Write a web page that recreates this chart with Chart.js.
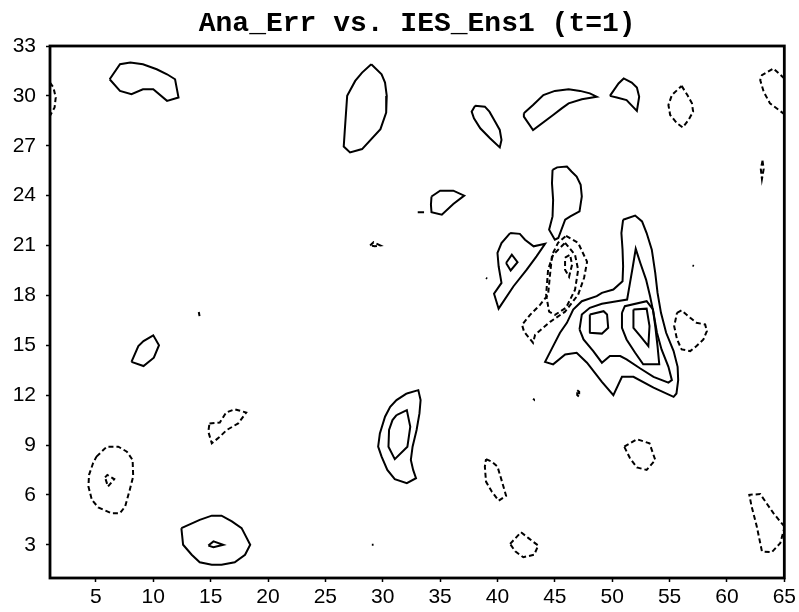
<!DOCTYPE html>
<html>
<head>
<meta charset="utf-8">
<script src="https://cdn.jsdelivr.net/npm/chart.js@4/dist/chart.umd.min.js"></script>
<style>
  html, body { margin: 0; padding: 0; background: #fff; }
  #wrap { width: 799px; height: 612px; }
</style>
</head>
<body>
<div id="wrap"><canvas id="contourChart" width="799" height="612"></canvas></div>
<script>
// axis ticks
const xTicks = [5, 10, 15, 20, 25, 30, 35, 40, 45, 50, 55, 60, 65]
const yTicks = [3, 6, 9, 12, 15, 18, 21, 24, 27, 30, 33]
const xLabels = ['5', '10', '15', '20', '25', '30', '35', '40', '45', '50', '55', '60', '65']
const yLabels = ['3', '6', '9', '12', '15', '18', '21', '24', '27', '30', '33']
const titleText = 'Ana_Err vs. IES_Ens1 (t=1)'

// positive contours (solid), traced as [x, y] in grid units
const posNW = [[6.2,31.0],[7.1,31.9],[8.0,32.0],[9.1,31.9],[10.3,31.6],[11.2,31.3],[11.9,31.0],[12.2,29.9],[11.2,29.7],[10.0,30.4],[9.1,30.4],[8.1,30.1],[7.1,30.3]]
const posTop28 = [[29.0,31.9],[29.9,31.3],[30.2,30.8],[30.35,30.0],[30.3,29.0],[29.8,28.0],[28.2,26.8],[27.15,26.6],[26.6,26.95],[26.7,28.0],[26.9,30.0],[27.6,30.9],[28.2,31.4]]
const posTop39 = [[38.05,29.4],[38.9,29.35],[39.3,29.05],[39.8,28.45],[40.2,27.95],[40.35,27.35],[40.2,26.9],[39.35,27.45],[38.5,28.05],[37.95,28.65],[37.75,29.05]]
const posArc = [[42.3,28.95],[43.1,29.45],[44.0,30.05],[45.0,30.3],[46.2,30.4],[47.2,30.3],[48.05,30.15],[48.65,29.95],[47.35,29.8],[46.2,29.55],[45.6,29.25],[44.85,28.85],[43.1,27.95],[42.3,28.75]]
const posTop51 = [[49.8,30.0],[50.55,30.75],[51.0,31.05],[51.7,30.8],[52.15,30.5],[52.35,29.95],[52.15,29.1],[51.25,29.75],[50.4,29.9]]
const pos35 = [[34.25,23.95],[35.0,24.3],[36.15,24.3],[37.1,24.0],[36.15,23.5],[35.15,22.85],[34.25,23.0],[34.2,23.45]]
const pos33dot = [[33.05,23.0],[33.6,23.0]]
const pos46 = [[44.8,25.55],[45.2,25.7],[46.05,25.75],[46.45,25.45],[46.9,25.15],[47.25,24.65],[47.35,23.95],[47.15,23.05],[46.35,22.75],[45.9,22.55],[45.3,21.45],[45.0,21.35],[44.5,21.95],[44.8,22.75],[44.85,23.75],[44.75,24.75]]
const pos41 = [[41.1,21.75],[41.95,21.7],[42.4,21.35],[43.15,20.95],[44.15,21.1],[43.4,20.35],[42.55,19.55],[41.4,18.55],[40.1,17.2],[39.7,18.1],[40.35,18.75],[40.1,19.75],[40.0,20.55],[40.35,21.15]]
const pos41in = [[40.75,19.95],[41.25,20.45],[41.75,20.0],[41.15,19.5]]
const pos39dot = [[39.0,19.05],[39.1,19.0]]
const posBig1 = [[50.95,22.55],[52.0,22.8],[52.6,22.45],[53.0,21.75],[53.45,20.75],[53.75,19.35],[53.95,18.15],[54.25,16.95],[54.7,15.75],[55.35,14.65],[55.7,13.7],[55.75,12.9],[55.6,12.1],[55.35,11.9],[53.6,12.45],[51.85,13.1],[50.85,13.1],[50.1,12.0],[49.1,12.8],[47.8,13.95],[46.9,14.55],[45.9,14.45],[44.85,13.85],[44.15,14.0],[44.85,14.95],[45.45,15.75],[46.05,16.35],[46.6,17.15],[47.35,17.65],[48.65,17.95],[49.1,18.15],[50.1,18.35],[50.9,18.85],[50.95,19.75],[50.9,20.75],[50.8,21.75]]
const posBig2 = [[47.15,15.95],[47.35,16.85],[48.05,17.25],[49.1,17.5],[50.4,17.65],[51.3,17.75],[51.55,18.75],[51.8,19.75],[52.05,20.8],[52.45,19.95],[52.95,18.95],[53.3,17.95],[53.6,16.95],[53.9,15.75],[54.3,14.75],[54.9,13.7],[55.2,12.9],[54.9,12.75],[53.6,13.1],[52.45,13.6],[51.25,14.15],[50.7,14.35],[49.8,14.35],[49.1,13.95],[48.35,14.65],[47.5,15.35]]
const posBig3 = [[50.85,16.95],[51.1,17.35],[53.0,17.65],[53.55,17.15],[53.75,16.15],[53.95,14.95],[54.1,13.85],[52.7,13.85],[52.0,14.55],[51.25,15.35],[50.85,16.05]]
const posCoreR = [[51.85,17.15],[53.0,17.2],[53.25,16.15],[53.15,14.95],[52.45,15.55],[51.85,16.05]]
const posCoreL = [[48.05,16.85],[49.25,17.05],[49.55,16.85],[49.65,16.05],[49.1,15.7],[48.0,15.75]]
const pos57dot = [[57.0,19.8],[57.12,19.76]]
const pos43dot = [[43.1,11.78],[43.18,11.74]]
const pos9 = [[8.1,14.0],[8.7,14.95],[9.15,15.25],[10.0,15.6],[10.5,15.0],[10.05,14.25],[9.15,13.75]]
const pos14dot = [[13.97,17.0],[14.03,16.75]]
const pos16 = [[12.45,4.0],[14.05,4.5],[15.1,4.75],[15.95,4.75],[16.85,4.4],[17.7,4.0],[18.45,3.0],[18.0,2.4],[17.1,1.95],[15.95,1.8],[15.1,1.8],[14.05,1.95],[13.35,2.4],[12.6,3.0]]
const pos16in = [[14.8,2.95],[15.25,3.2],[16.1,3.0],[15.25,2.85]]
const pos29dot = [[29.05,3.0],[29.2,3.0]]
const pos32 = [[32.1,12.1],[33.1,12.3],[33.3,11.7],[33.2,10.9],[32.95,9.9],[32.6,8.9],[32.45,8.1],[32.65,7.5],[32.9,7.0],[32.1,6.7],[31.05,6.95],[30.4,7.5],[29.9,8.3],[29.6,8.9],[29.75,9.7],[30.2,10.7],[30.65,11.3],[31.2,11.7]]
const pos32in = [[31.2,10.8],[32.1,11.1],[32.4,10.1],[32.15,8.9],[31.05,8.15],[30.5,8.9],[30.55,9.9],[30.85,10.5]]

// negative contours (dashed)
const negWestEdge = [[1.0,30.8],[1.3,30.5],[1.5,29.9],[1.4,29.3],[1.0,28.8]]
const neg56 = [[56.05,30.6],[56.55,30.05],[56.95,29.55],[57.05,29.05],[56.65,28.55],[56.15,28.1],[55.65,28.35],[55.05,28.85],[54.9,29.45],[55.2,30.05]]
const negNE = [[65.0,31.05],[64.05,31.65],[63.05,31.25],[62.9,30.95],[63.2,30.25],[63.75,29.55],[65.0,28.9]]
const neg63 = [[63.1,26.1],[63.2,25.6],[63.05,25.0],[62.95,25.6]]
const neg29 = [[28.9,21.0],[29.2,21.2],[29.5,21.1],[29.8,21.0],[29.3,20.95]]
const neg46a = [[45.98,21.58],[47.03,21.16],[47.81,20.02],[47.55,19.06],[47.03,18.04],[45.89,17.02],[44.59,16.41],[43.28,15.63],[43.1,15.15],[42.32,15.81],[42.14,16.23],[42.84,16.83],[43.71,17.43],[44.41,18.04],[44.58,19.24],[44.76,20.44],[45.28,21.16]]
const neg46b = [[45.89,21.16],[46.76,20.44],[47.03,19.54],[46.76,18.34],[45.98,17.26],[45.02,16.83],[44.5,17.02],[44.24,18.04],[44.41,19.54],[44.85,20.44]]
const neg46c = [[45.89,20.27],[46.33,20.44],[46.5,19.84],[46.24,19.12],[45.89,19.54]]
const neg57 = [[55.65,16.95],[56.05,17.1],[56.8,16.65],[57.35,16.35],[58.1,16.25],[58.25,15.85],[57.95,15.35],[57.35,14.95],[56.8,14.65],[56.05,14.75],[55.65,15.35],[55.4,16.15]]
const neg47 = [[46.95,12.3],[47.12,12.2],[47.12,11.9],[46.95,12.0]]
const neg16 = [[14.9,10.3],[15.8,10.35],[16.35,10.95],[17.1,11.15],[18.1,10.95],[17.4,10.3],[16.4,9.9],[15.8,9.5],[15.1,9.1],[14.8,9.8]]
const neg6 = [[5.05,8.3],[5.95,8.9],[6.95,8.9],[7.7,8.6],[8.2,8.1],[8.25,7.1],[7.95,6.3],[7.55,5.3],[7.1,4.9],[6.35,4.9],[5.2,5.25],[4.65,5.7],[4.35,6.5],[4.4,7.2],[4.75,7.9]]
const neg6in = [[5.8,7.05],[6.0,7.2],[6.6,6.95],[6.05,6.5]]
const neg40 = [[39.0,8.15],[39.5,8.0],[40.0,7.7],[40.35,6.9],[40.75,5.95],[40.1,5.65],[39.5,6.2],[39.0,6.8],[38.9,7.7]]
const neg42 = [[41.1,3.05],[42.05,3.75],[42.7,3.4],[43.55,2.95],[43.2,2.4],[42.25,2.25],[41.55,2.6]]
const neg52 = [[51.05,8.9],[52.15,9.35],[53.25,9.1],[53.75,8.1],[53.0,7.5],[52.15,7.65],[51.55,8.2]]
const negSE = [[65.0,4.1],[64.05,4.9],[62.9,6.05],[61.95,6.0],[62.15,5.3],[62.6,4.1],[63.05,2.6],[63.9,2.55],[64.65,3.1],[65.0,4.0]]

const solidContours = [posNW, posTop28, posTop39, posArc, posTop51, pos35, pos33dot, pos46, pos41, pos41in, pos39dot,
  posBig1, posBig2, posBig3, posCoreR, posCoreL, pos57dot, pos43dot, pos9, pos14dot, pos16, pos16in, pos29dot, pos32, pos32in]
const dashedContours = [negWestEdge, neg56, negNE, neg63, neg29, neg46a, neg46b, neg46c, neg57, neg47, neg16, neg6, neg6in, neg40, neg42, neg52, negSE]
const openContours = [negWestEdge, negNE, pos33dot, pos39dot, pos57dot, pos43dot, pos14dot, pos29dot]

function toDataset(pts, dashed) {
  let data = pts.map(p => ({ x: p[0], y: p[1] }))
  if (!openContours.includes(pts)) {
    data.push({ x: pts[0][0], y: pts[0][1] })
  }
  return {
    data: data,
    showLine: true,
    borderColor: '#000',
    borderWidth: 2,
    borderDash: dashed ? [5, 3] : [],
    pointRadius: 0,
    fill: false,
    tension: 0
  }
}

let datasets = []
solidContours.forEach(c => datasets.push(toDataset(c, false)))
dashedContours.forEach(c => datasets.push(toDataset(c, true)))

// frame round the plot and title centred over it
const frame = {
  id: 'frame',
  afterDatasetsDraw(chart) {
    const a = chart.chartArea
    const ctx = chart.ctx
    ctx.save()
    ctx.strokeStyle = '#000'
    ctx.lineWidth = 2.8
    ctx.strokeRect(a.left, a.top, a.right - a.left, a.bottom - a.top)
    ctx.fillStyle = '#000'
    ctx.font = 'bold 28px "Liberation Mono"'
    ctx.textAlign = 'center'
    ctx.textBaseline = 'alphabetic'
    ctx.fillText(titleText, (a.left + a.right) / 2, 31)
    ctx.restore()
  }
}

const tickFont = { family: 'Liberation Sans', size: 21 }

new Chart(document.getElementById('contourChart'), {
  type: 'scatter',
  data: { datasets: datasets },
  options: {
    responsive: false,
    animation: false,
    layout: { padding: { top: 46, right: 14, left: 0, bottom: 0 } },
    plugins: {
      legend: { display: false },
      tooltip: { enabled: false },
      title: { display: false }
    },
    scales: {
      x: {
        type: 'linear',
        min: 1,
        max: 65,
        afterBuildTicks(scale) { scale.ticks = xTicks.map(v => ({ value: v })) },
        afterFit(scale) { scale.height = 34 },
        ticks: {
          color: '#000',
          font: tickFont,
          padding: 3,
          maxRotation: 0,
          callback: (v) => xLabels[xTicks.indexOf(v)]
        },
        grid: { drawOnChartArea: false, drawTicks: true, tickLength: 4, tickWidth: 1.5, tickColor: '#000' },
        border: { display: false }
      },
      y: {
        type: 'linear',
        min: 1,
        max: 33,
        afterBuildTicks(scale) { scale.ticks = yTicks.map(v => ({ value: v })) },
        afterFit(scale) { scale.width = 50 },
        ticks: {
          color: '#000',
          font: tickFont,
          padding: 10,
          callback: (v) => yLabels[yTicks.indexOf(v)]
        },
        grid: { drawOnChartArea: false, drawTicks: true, tickLength: 4, tickWidth: 1.5, tickColor: '#000' },
        border: { display: false }
      }
    }
  },
  plugins: [frame]
})
</script>
</body>
</html>
